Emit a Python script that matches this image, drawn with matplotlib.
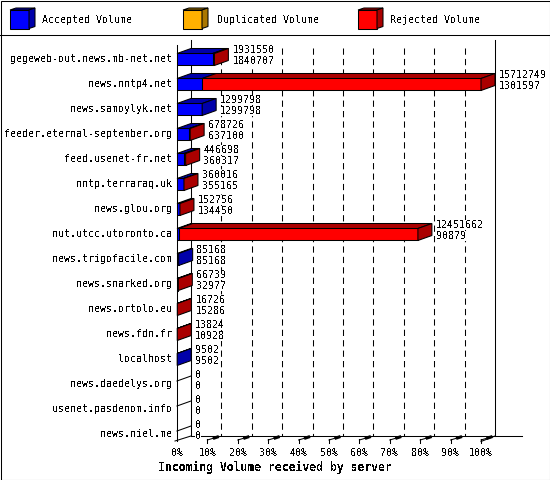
#!/usr/bin/env python3
"""Incoming volume per server, drawn as innreport-style 3D horizontal bars."""

from __future__ import annotations

import matplotlib

matplotlib.use("Agg")

import matplotlib.pyplot as plt
from matplotlib.patches import Polygon, Rectangle

servers = [
    "gegeweb-out.news.mb-net.net",
    "news.nntp4.net",
    "news.samoylyk.net",
    "feeder.eternal-september.org",
    "feed.usenet-fr.net",
    "nntp.terraraq.uk",
    "news.glou.org",
    "nut.utcc.utoronto.ca",
    "news.trigofacile.com",
    "news.snarked.org",
    "news.ortolo.eu",
    "news.fdn.fr",
    "localhost",
    "news.daedelys.org",
    "usenet.pasdenom.info",
    "news.niel.me",
]
total_volume = [1931550, 15712749, 1299798, 678726, 446698, 360016, 152756, 12451662,
                85168, 66739, 16726, 13824, 9502, 0, 0, 0]
accepted_volume = [1840707, 1301597, 1299798, 637100, 360317, 355165, 134450, 90879,
                   85168, 32977, 15286, 10928, 9502, 0, 0, 0]
duplicated_volume = [0] * len(servers)
series_names = ["Accepted Volume", "Duplicated Volume", "Rejected Volume"]
tick_labels = [f"{p}%" for p in range(0, 101, 10)]
x_title = "Incoming Volume received by server"

FRONT = ["#0000ff", "#ffb000", "#ff0000"]
SHADE = ["#0000aa", "#aa7700", "#aa0000"]
MONO = "DejaVu Sans Mono"
LW = 0.75


def poly(ax, pts, color, z=3):
    ax.add_patch(Polygon(pts, closed=True, facecolor=color, edgecolor="black",
                         linewidth=LW, clip_on=False, zorder=z))


def draw_legend(ov) -> None:
    for x0, tx, name, fc, sc in zip([10, 183, 358], [42, 217, 390], series_names, FRONT, SHADE):
        ov.add_patch(Rectangle((x0, 10), 19, 18.5, facecolor=fc, edgecolor="black", linewidth=LW))
        poly(ov, [(x0, 10), (x0 + 19, 10), (x0 + 25, 8), (x0 + 6, 8)], sc)
        poly(ov, [(x0 + 19, 10), (x0 + 25, 8), (x0 + 25, 26.5), (x0 + 19, 28.5)], sc)
        ov.text(tx, 20, name, family=MONO, fontsize=7.2, va="center", ha="left")


def main() -> None:
    plt.rcParams["text.antialiased"] = False
    fig = plt.figure(figsize=(5.5, 4.8), dpi=100)

    # pixel overlay for frame + legend
    ov = fig.add_axes([0, 0, 1, 1], zorder=0)
    ov.set_xlim(0, 550)
    ov.set_ylim(480, 0)
    ov.axis("off")
    ov.add_patch(Rectangle((0.5, 0.5), 549, 479, fill=False, edgecolor="black", linewidth=LW))
    ov.plot([0, 550], [35, 35], color="black", linewidth=LW)
    draw_legend(ov)

    # chart axes: x in volume, y in rows (25 px each)
    xmax = max(total_volume)
    ax = fig.add_axes([177 / 550, 39 / 480, 304 / 550, 401 / 480], zorder=1)
    ax.patch.set_visible(False)
    ax.axis("off")
    ax.set_xlim(0, xmax)
    top_row, floor_row = -0.76, 15.28
    ax.set_ylim(floor_row, top_row)

    px = xmax / 304.0
    py = 1 / 25.0
    dx, dy = 14 * px, 5 * py
    back_floor = floor_row - dy

    line = dict(color="black", linewidth=LW, clip_on=False, zorder=2)
    ax.plot([0, 0], [top_row + dy, floor_row], **line)
    ax.plot([dx, dx], [top_row, back_floor], **line)
    ax.plot([xmax + dx, xmax + dx], [top_row, back_floor], **line)
    ax.plot([dx, xmax + dx + 27 * px], [back_floor, back_floor], **line)
    ax.plot([-2 * px, dx], [floor_row, back_floor], **line)
    ax.plot([xmax, xmax + dx], [floor_row + 0.5 * py, back_floor], **line)
    for k in range(1, 10):
        xb = k * xmax / 10 + dx
        ax.plot([xb, xb], [top_row + 8 * py, back_floor], color="black", linewidth=LW,
                linestyle=(0, (6, 4)), clip_on=False, zorder=1)
    for k in range(1, 11):
        xf = k * xmax / 10
        ax.plot([xf, xf], [floor_row - 1.5 * py, floor_row + 2 * py], **line)
        ax.plot([xf, xf + 10 * px], [floor_row - 1 * py, floor_row - 4 * py], **line)
        ax.plot([xf + 7 * px, xf + 10 * px], [floor_row - 3 * py, floor_row - 4 * py],
                color="black", linewidth=2.2, clip_on=False, zorder=2)
    for k, lab in enumerate(tick_labels):
        ax.annotate(lab, (k * xmax / 10, floor_row), xytext=(0, -12), textcoords="offset pixels",
                    ha="center", va="center", family=MONO, fontsize=7.2, annotation_clip=False)
    ax.annotate(x_title, (98 * px, floor_row), xytext=(0, -26), textcoords="offset pixels",
                ha="center", va="center", family=MONO, fontsize=8.3, fontweight="bold",
                annotation_clip=False)

    h = 12 * py
    for i, name in enumerate(servers):
        yc = i + 0.5 * py
        y0, y1 = yc - h / 2, yc + h / 2
        ax.annotate(name, (0, i), xytext=(-5, 0), textcoords="offset pixels", ha="right",
                    va="center", family=MONO, fontsize=7.2, annotation_clip=False)
        acc = accepted_volume[i]
        dup = duplicated_volume[i]
        rej = total_volume[i] - acc - dup
        if total_volume[i] == 0:
            ax.plot([0, dx], [i - 3 * py, i - 8 * py], **line)
        else:
            start, last = 0, 0
            for s, val in enumerate([acc, dup, rej]):
                if val <= 0:
                    continue
                end = start + val
                ax.add_patch(Rectangle((start, y0), val, h, facecolor=FRONT[s], edgecolor="black",
                                       linewidth=LW, clip_on=False, zorder=3))
                poly(ax, [(start, y0), (end, y0), (end + dx, y0 - dy), (start + dx, y0 - dy)], SHADE[s])
                start, last = end, s
            poly(ax, [(start, y0), (start + dx, y0 - dy), (start + dx, y1 - dy), (start, y1)], SHADE[last])
        for txt, off in ((total_volume[i], 9), (accepted_volume[i], -2)):
            ax.annotate(str(txt), (total_volume[i] + dx, i), xytext=(4, off), textcoords="offset pixels",
                        ha="left", va="center", family=MONO, fontsize=7.2, annotation_clip=False,
                        zorder=4, bbox=dict(facecolor="white", edgecolor="none", pad=0))

    fig.savefig("out.png", dpi=100, facecolor="white")


if __name__ == "__main__":
    main()
